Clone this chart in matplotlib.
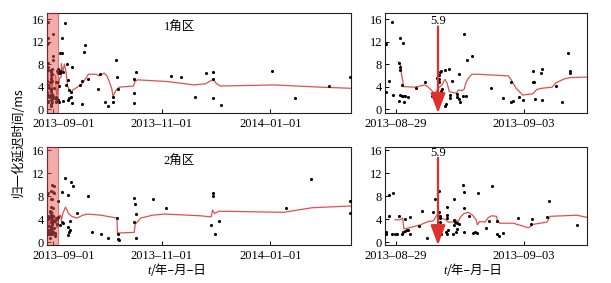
import numpy as np
import matplotlib
matplotlib.use("Agg")
import matplotlib.pyplot as plt
import matplotlib.transforms as mtransforms

plt.rcParams['font.family'] = ['Liberation Serif', 'Noto Sans CJK SC', 'DejaVu Sans']

# ---------------- data (time = days since 2013-08-29 00:00) ----------------
base = np.datetime64('2013-08-29T00:00')

# Zone 1, detail window (right-top panel)
z1_det_pt_t = [-0.39, -0.14, -0.27, -0.39, -0.10, 0.16, 0.29, 0.13, 0.15, 0.16, 0.22, 0.16, 0.22, 0.29, 0.35,
               0.12, 0.30, 0.48, 0.78, 1.13, 1.39, 1.61, 1.69, 1.69, 1.72, 1.74, 1.66, 1.77, 1.72, 1.80, 1.72,
               1.91, 2.08, 2.17, 2.10, 2.12, 1.95, 1.90, 2.45, 2.38, 2.40, 2.48, 2.50, 2.66, 2.76, 2.96, 2.62,
               2.72, 3.70, 4.19, 4.48, 4.56, 4.50, 4.82, 4.95, 5.36, 5.36, 5.39, 5.43, 5.69, 5.66, 5.69, 6.25,
               6.47, 6.70, 6.80, 6.78]
z1_det_pt_v = [11.5, 15.5, 5.0, 3.1, 2.5, 12.7, 11.7, 8.2, 7.5, 6.9, 4.3, 2.5, 2.4, 2.4, 2.3,
               1.4, 1.3, 2.1, 3.7, 4.9, 2.3, 5.6, 5.3, 6.0, 6.6, 6.8, 4.8, 3.2, 2.5, 3.5, 1.7,
               6.9, 7.2, 5.0, 2.5, 1.9, 0.9, 0.5, 6.2, 2.7, 2.2, 1.8, 1.2, 13.4, 8.7, 9.4, 2.4,
               2.4, 3.7, 1.9, 1.3, 1.5, 4.9, 2.1, 1.7, 6.8, 4.9, 4.8, 1.8, 7.2, 6.5, 1.6, 4.1,
               1.3, 9.9, 6.8, 6.4]
z1_det_ln_t = [0.09, 0.18, 0.22, 0.26, 0.29, 0.74, 1.13, 1.26, 1.39, 1.52, 1.61, 1.69, 1.80, 1.91, 2.00,
               2.08, 2.37, 2.43, 2.57, 2.66, 2.73, 2.83, 2.96, 3.20, 4.39, 4.50, 4.69, 4.95, 5.34, 5.50,
               5.69, 6.10, 6.25, 6.60, 6.80, 7.49]
z1_det_ln_v = [8.4, 7.8, 6.0, 5.2, 4.0, 3.9, 4.3, 3.9, 3.3, 2.8, 3.4, 3.9, 4.3, 5.3, 4.6,
               3.1, 2.8, 3.4, 3.3, 3.5, 4.7, 5.5, 6.2, 6.2, 5.9, 5.2, 3.7, 2.5, 2.7, 3.5,
               3.7, 3.9, 4.7, 5.4, 5.6, 5.7]

# Zone 1, after detail window (left-top panel)
z1_late_pt_t = [9.9, 7.9, 7.9, 20.9, 20.2, 10.7, 8.6, 13.8, 38.3, 38.8, 29.1, 22.8, 19.0, 17.9, 28.0, 39.6,
                36.6, 36.5, 32.3, 33.6, 19.0, 8.4, 12.1, 13.1, 11.2, 13.6, 10.5, 11.8, 13.1, 11.2, 49.4,
                48.5, 48.5, 48.5, 69.0, 75.0, 82.5, 88.8, 92.9, 92.9, 92.9, 97.4, 125.9, 139.0, 158.0, 169.8]
z1_late_pt_v = [15.3, 12.6, 10.0, 11.4, 10.2, 8.1, 6.6, 7.4, 8.8, 5.7, 6.2, 5.4, 5.0, 4.3, 3.5, 3.5,
                2.2, 1.3, 1.3, 0.5, 0.9, 1.5, 1.9, 2.2, 1.6, 1.1, 4.3, 3.4, 3.1, 5.2, 6.6,
                5.4, 2.9, 1.0, 5.9, 5.7, 2.1, 6.5, 6.6, 5.3, 2.0, 0.8, 6.8, 1.9, 4.1, 5.7]
z1_late_ln_t = [7.6, 8.41, 9.34, 10.27, 11.21, 12.14, 13.07, 14.0, 18.67, 21.47, 22.77, 27.06, 28.93, 31.73,
                33.22, 34.52, 36.02, 36.58, 38.26, 40.12, 48.14, 48.89, 50.38, 67.17, 82.1, 88.6, 92.9,
                94.8, 97.0, 126.8, 153.0, 170.3]
z1_late_ln_v = [8.1, 6.6, 8.0, 6.6, 4.0, 3.4, 2.9, 3.4, 4.3, 5.5, 6.2, 6.2, 5.9, 6.4,
                5.9, 4.9, 3.5, 2.3, 3.3, 3.9, 4.1, 4.9, 5.2, 4.9, 4.3, 4.5, 5.3,
                4.5, 4.1, 4.3, 3.9, 3.7]

# Zone 2, detail window (right-bottom panel)
z2_det_pt_t = [-0.39, -0.39, -0.26, -0.26, -0.10, -0.17, -0.04, 0.05, 0.13, 0.22, 0.29, 0.35, 0.35, 0.42,
               0.48, 0.55, 0.55, 0.91, 1.03, 1.20, 1.46, 1.52, 1.69, 1.68, 1.70, 1.70, 1.72, 1.72, 1.74,
               1.72, 1.98, 2.00, 2.01, 1.95, 2.00, 2.04, 2.25, 2.30, 2.28, 2.33, 2.22, 2.27, 2.37, 2.47,
               2.37, 2.60, 2.67, 2.67, 2.66, 2.86, 3.00, 3.08, 3.17, 3.21, 3.52, 3.64, 3.74, 3.96, 3.96,
               4.04, 4.17, 4.78, 5.26, 5.33, 5.91, 5.99, 7.08]
z2_det_pt_v = [1.7, 1.4, 4.5, 8.3, 8.5, 1.4, 1.4, 1.4, 4.5, 1.4, 1.8, 4.0, 2.0, 2.1,
               2.2, 4.3, 1.4, 2.9, 5.4, 0.7, 5.3, 7.6, 8.9, 5.2, 4.6, 4.2, 3.5, 2.7, 1.4,
               2.3, 6.2, 4.7, 4.2, 1.8, 1.4, 2.1, 3.9, 3.5, 3.0, 1.8, 1.4, 7.6, 3.3, 3.1,
               2.3, 9.9, 8.7, 6.0, 1.7, 4.5, 1.6, 1.8, 1.6, 8.5, 2.5, 3.7, 9.8, 3.7, 1.4,
               1.0, 1.6, 4.2, 3.1, 4.0, 4.3, 7.2, 3.0]
z2_det_ln_t = [-0.04, 0.16, 0.26, 0.31, 0.42, 0.94, 1.26, 1.46, 1.56, 1.65, 1.74, 1.95, 2.04, 2.24, 2.30,
               2.43, 2.54, 2.66, 2.83, 2.99, 3.13, 3.18, 3.26, 3.48, 3.61, 3.74, 3.93, 3.96, 4.06, 4.58,
               5.17, 5.36, 5.89, 6.02, 7.06, 7.49]
z2_det_ln_v = [3.9, 3.9, 4.2, 2.3, 2.4, 3.0, 3.6, 3.7, 4.5, 5.0, 4.2, 3.9, 3.5, 3.5, 3.9,
               3.6, 4.5, 5.0, 5.2, 4.7, 3.9, 3.0, 3.6, 3.5, 4.3, 4.6, 4.5, 3.7, 3.3, 3.3,
               2.5, 3.1, 3.5, 4.5, 4.7, 4.3]

# Zone 2, after detail window (left-bottom panel)
z2_late_pt_t = [9.7, 13.1, 14.0, 7.9, 11.2, 22.4, 16.4, 8.0, 8.8, 11.2, 12.0, 12.3, 11.3, 12.7, 24.8, 29.9,
                33.6, 38.8, 39.2, 39.7, 39.8, 48.5, 49.1, 49.4, 48.5, 49.4, 59.1, 66.2, 91.8, 92.9, 92.9,
                93.8, 96.1, 133.8, 147.9, 169.8, 169.8]
z2_late_pt_v = [11.2, 10.5, 9.8, 8.7, 8.3, 8.0, 5.1, 3.5, 3.3, 2.7, 1.8, 2.1, 1.3, 3.7, 1.7, 1.4,
                0.7, 4.2, 1.4, 0.6, 0.4, 7.7, 6.6, 4.9, 3.5, 0.8, 7.5, 5.9, 3.0, 8.5, 8.1,
                1.4, 3.7, 6.0, 11.0, 7.1, 5.0]
z2_late_ln_t = [7.6, 8.41, 9.9, 10.83, 11.58, 13.45, 16.43, 19.6, 22.4, 29.86, 38.81, 39.19, 39.75, 48.51,
                49.07, 52.24, 58.77, 65.3, 85.8, 91.8, 92.5, 93.65, 96.1, 132.5, 148.3, 169.8, 170.3]
z2_late_ln_v = [3.8, 5.0, 6.1, 5.6, 5.0, 4.5, 4.2, 4.7, 4.9, 4.7, 4.2, 1.4, 1.6, 1.7,
                3.1, 4.2, 4.7, 4.9, 4.6, 4.4, 5.6, 5.0, 5.4, 5.2, 6.0, 6.3, 6.3]

quake_t = 1.64          # M5.9 event
quake_label = "5.9"
highlight = (-0.45, 5.6)
zone_labels = ["1角区", "2角区"]
yticks = [0, 4, 8, 12, 16]
left_ticks = ['2013-09-01', '2013-11-01', '2014-01-01']
right_ticks = ['2013-08-29', '2013-09-03']
ylabel = "归一化延迟时间/ms"


def to_dt(days):
    return base + (np.asarray(days) * 1440).round().astype('timedelta64[m]')


# ---------------- figure ----------------
W, H, DPI = 611, 283, 100
fig = plt.figure(figsize=(W / DPI, H / DPI), dpi=DPI)


def frac(x0, y0, x1, y1):
    return [x0 / W, 1 - y1 / H, (x1 - x0) / W, (y1 - y0) / H]


axL = [fig.add_axes(frac(47, 13, 351, 113)), fig.add_axes(frac(47, 147, 351, 245))]
axR = [fig.add_axes(frac(385, 13, 587, 113)), fig.add_axes(frac(385, 147, 587, 245))]

det = [(z1_det_pt_t, z1_det_pt_v, z1_det_ln_t, z1_det_ln_v),
       (z2_det_pt_t, z2_det_pt_v, z2_det_ln_t, z2_det_ln_v)]
late = [(z1_late_pt_t, z1_late_pt_v, z1_late_ln_t, z1_late_ln_v),
        (z2_late_pt_t, z2_late_pt_v, z2_late_ln_t, z2_late_ln_v)]

line_c = '#e0504c'
tick_fs = 9
ylims = [(-0.7, 17.1), (-0.5, 16.6)]

for ax, yl in zip(axL + axR, ylims * 2):
    ax.set_ylim(*yl)
    ax.set_yticks(yticks)
    ax.tick_params(direction='in', length=3, width=0.7, labelsize=tick_fs)
    ax.tick_params(axis='x', pad=3.5)
    ax.tick_params(axis='y', pad=2)
    for s in ax.spines.values():
        s.set_linewidth(0.8)
        s.set_color('#222222')

for i in range(2):
    dpt, dpv, dlt, dlv = det[i]
    lpt, lpv, llt, llv = late[i]
    # left panel
    ax = axL[i]
    pt_t = list(dpt) + list(lpt)
    pt_v = list(dpv) + list(lpv)
    ln_t = list(dlt) + list(llt)
    ln_v = list(dlv) + list(llv)
    ax.plot(to_dt(ln_t), ln_v, color=line_c, lw=0.9, zorder=2)
    ax.scatter(to_dt(pt_t), pt_v, s=5, c='black', linewidths=0, zorder=3)
    ax.axvspan(to_dt(highlight[0]), to_dt(highlight[1]), facecolor='#e8585a', alpha=0.5,
               edgecolor='#b02020', lw=0.8, zorder=4)
    ax.set_xlim(to_dt(-0.45), to_dt(170.3))
    ax.set_xticks([np.datetime64(d + 'T00:00') for d in left_ticks])
    ax.set_xticklabels([d.replace('-', '–') for d in left_ticks], fontsize=tick_fs)
    ax.text(0.435, 0.86, zone_labels[i], transform=ax.transAxes, ha='center', va='center',
            fontsize=9, family=['Liberation Serif', 'Noto Sans CJK SC'])

    # right panel
    ax = axR[i]
    ax.plot(to_dt(dlt), dlv, color=line_c, lw=0.9, zorder=2)
    ax.scatter(to_dt(dpt), dpv, s=5, c='black', linewidths=0, zorder=3)
    ax.set_xlim(to_dt(-0.43), to_dt(7.46))
    ax.set_xticks([np.datetime64(d + 'T00:00') for d in right_ticks])
    ax.set_xticklabels([d.replace('-', '–') for d in right_ticks], fontsize=tick_fs)
    ylo = ylims[i][0]
    ax.annotate('', xy=(to_dt(quake_t), ylo), xytext=(to_dt(quake_t), 14.7),
                arrowprops=dict(arrowstyle='-|>,head_length=1.2,head_width=0.45', color='#e0302c',
                                lw=1.6, mutation_scale=10, shrinkA=0, shrinkB=0), zorder=5)
    ax.text(to_dt(quake_t), 15.6, quake_label, ha='center', va='center', fontsize=9, zorder=6)

# the first date label in the left column sits a little right of its tick, as in the source figure
shift = mtransforms.ScaledTranslation(11 / DPI, 0, fig.dpi_scale_trans)
for ax in axL:
    lab = ax.xaxis.get_major_ticks()[0].label1
    lab.set_transform(lab.get_transform() + shift)

# y label
fig.text(18 / W, 1 - 142 / H, ylabel, rotation=90, ha='center', va='center', fontsize=9,
         family=['Noto Sans CJK SC', 'Liberation Serif'])

# x labels
for xs in (151, 447):
    fig.text(xs / W, 1 - 271 / H, 't', style='italic', ha='right', va='center', fontsize=9,
             family=['Liberation Serif'])
    fig.text(xs / W, 1 - 271 / H, '/年–月–日', ha='left', va='center', fontsize=9,
             family=['Noto Sans CJK SC', 'Liberation Serif'])

fig.savefig('out.png', dpi=DPI)
